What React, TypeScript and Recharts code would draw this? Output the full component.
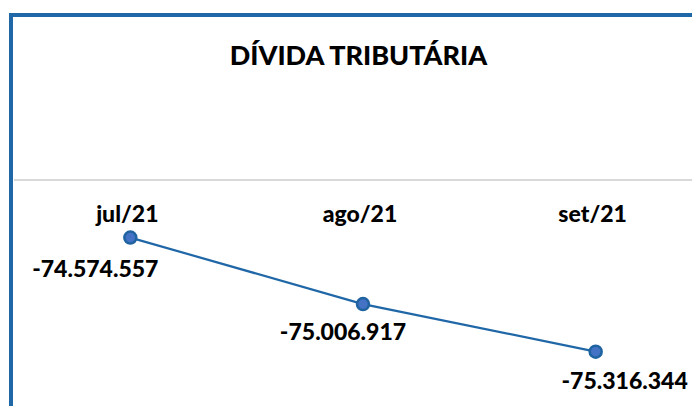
import React from 'react'
import { LineChart, Line, XAxis, YAxis, LabelList } from 'recharts'

const MONTHS = ['jul/21', 'ago/21', 'set/21']
const DIVIDA = [-74574557, -75006917, -75316344]
const Y_DOMAIN = [-75800000, -74200000]

const data = MONTHS.map((m, i) => ({ month: m, value: DIVIDA[i] }))

const FONT = 'Lato, "Open Sans", sans-serif'
const BLUE_LINE = '#1F67A6'

// pt-BR style thousands: -74.574.557
const fmt = (v: number) => {
  const s = Math.abs(Math.round(v)).toString().replace(/\B(?=(\d{3})+(?!\d))/g, '.')
  return (v < 0 ? '-' : '') + s
}

// the labels in the original were nudged by hand, so each one gets its own shift
const LABEL_DX = [-35, -20, 29]
const LABEL_DY = [30, 27, 28]

const ValueLabel = (props: any) => {
  const { x, y, value, index } = props
  return (
    <text
      x={x + LABEL_DX[index]}
      y={y + LABEL_DY[index]}
      textAnchor="middle"
      dominantBaseline="central"
      fontFamily={FONT}
      fontWeight={900}
      fontSize={23}
      fill="#000"
    >
      {fmt(value)}
    </text>
  )
}

const MonthTick = (props: any) => {
  const { x, payload } = props
  return (
    <text
      x={x - 3}
      y={196}
      textAnchor="middle"
      dominantBaseline="central"
      fontFamily={FONT}
      fontWeight={900}
      fontSize={23}
      fill="#000"
    >
      {payload.value}
    </text>
  )
}

export default function App() {
  return (
    <div style={{ width: 692, height: 398, overflow: 'hidden', position: 'relative' }}>
      <div
        style={{
          position: 'absolute',
          left: 1,
          top: 5,
          width: 720,
          height: 440,
          borderLeft: `4px solid ${BLUE_LINE}`,
          borderTop: `4px solid ${BLUE_LINE}`,
          background: '#fff',
        }}
      >
        <div
          style={{
            position: 'absolute',
            left: 0,
            top: 21,
            width: 691,
            textAlign: 'center',
            fontFamily: FONT,
            fontWeight: 900,
            fontSize: 27,
            color: '#000',
          }}
        >
          DÍVIDA TRIBUTÁRIA
        </div>
        <LineChart
          width={699}
          height={430}
          data={data}
          margin={{ top: 133, right: 0, bottom: 21, left: 1 }}
        >
          <XAxis
            dataKey="month"
            orientation="top"
            height={30}
            scale="band"
            axisLine={{ stroke: '#D9D9D9', strokeWidth: 2 }}
            tickLine={false}
            tick={<MonthTick />}
            interval={0}
          />
          <YAxis hide domain={Y_DOMAIN} allowDataOverflow />
          <Line
            type="linear"
            dataKey="value"
            stroke={BLUE_LINE}
            strokeWidth={2.2}
            dot={{ r: 6, fill: '#4472C4', stroke: '#1F63A0', strokeWidth: 2.5 }}
            isAnimationActive={false}
          >
            <LabelList dataKey="value" content={<ValueLabel />} />
          </Line>
        </LineChart>
      </div>
    </div>
  )
}
